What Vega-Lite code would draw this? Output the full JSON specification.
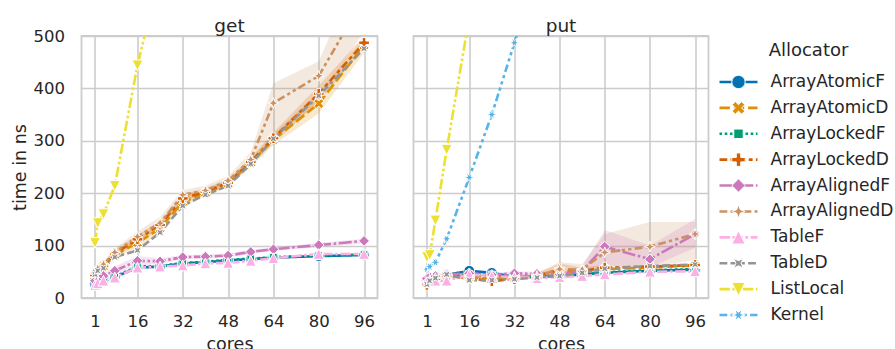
{
  "$schema": "https://vega.github.io/schema/vega-lite/v6.json",
  "padding": {"left": 9.5, "top": 15, "right": 0, "bottom": 0},
  "config": {
    "font": "DejaVu Sans",
    "view": {"stroke": "#cccccc", "strokeWidth": 1.8},
    "axis": {"grid": true, "gridColor": "#cccccc", "gridWidth": 1.6, "domain": false, "ticks": false, "labelFontSize": 16.5, "titleFontSize": 17.5, "labelColor": "#262626", "titleColor": "#262626", "titleFontWeight": "normal", "labelFlush": false, "labelOverlap": false},
    "title": {"fontSize": 18.5, "fontWeight": "normal", "color": "#262626", "baseline": "bottom", "offset": 1},
    "concat": {"spacing": 8}
  },
  "datasets": {
    "main": [
      {"panel":"get","Allocator":"ArrayAtomicF","cores":1,"ns":26},{"panel":"get","Allocator":"ArrayAtomicF","cores":2,"ns":28},{"panel":"get","Allocator":"ArrayAtomicF","cores":4,"ns":33},{"panel":"get","Allocator":"ArrayAtomicF","cores":8,"ns":40},{"panel":"get","Allocator":"ArrayAtomicF","cores":16,"ns":58},{"panel":"get","Allocator":"ArrayAtomicF","cores":24,"ns":60},{"panel":"get","Allocator":"ArrayAtomicF","cores":32,"ns":66},{"panel":"get","Allocator":"ArrayAtomicF","cores":40,"ns":68},{"panel":"get","Allocator":"ArrayAtomicF","cores":48,"ns":72},{"panel":"get","Allocator":"ArrayAtomicF","cores":56,"ns":74},{"panel":"get","Allocator":"ArrayAtomicF","cores":64,"ns":77},{"panel":"get","Allocator":"ArrayAtomicF","cores":80,"ns":80},{"panel":"get","Allocator":"ArrayAtomicF","cores":96,"ns":82},
      {"panel":"get","Allocator":"ArrayAtomicD","cores":1,"ns":42},{"panel":"get","Allocator":"ArrayAtomicD","cores":2,"ns":50},{"panel":"get","Allocator":"ArrayAtomicD","cores":4,"ns":60},{"panel":"get","Allocator":"ArrayAtomicD","cores":8,"ns":82},{"panel":"get","Allocator":"ArrayAtomicD","cores":16,"ns":105},{"panel":"get","Allocator":"ArrayAtomicD","cores":24,"ns":133},{"panel":"get","Allocator":"ArrayAtomicD","cores":32,"ns":183},{"panel":"get","Allocator":"ArrayAtomicD","cores":40,"ns":200},{"panel":"get","Allocator":"ArrayAtomicD","cores":48,"ns":218},{"panel":"get","Allocator":"ArrayAtomicD","cores":56,"ns":258},{"panel":"get","Allocator":"ArrayAtomicD","cores":64,"ns":302},{"panel":"get","Allocator":"ArrayAtomicD","cores":80,"ns":371},{"panel":"get","Allocator":"ArrayAtomicD","cores":96,"ns":482},
      {"panel":"get","Allocator":"ArrayLockedF","cores":1,"ns":27},{"panel":"get","Allocator":"ArrayLockedF","cores":2,"ns":29},{"panel":"get","Allocator":"ArrayLockedF","cores":4,"ns":34},{"panel":"get","Allocator":"ArrayLockedF","cores":8,"ns":41},{"panel":"get","Allocator":"ArrayLockedF","cores":16,"ns":60},{"panel":"get","Allocator":"ArrayLockedF","cores":24,"ns":61},{"panel":"get","Allocator":"ArrayLockedF","cores":32,"ns":67},{"panel":"get","Allocator":"ArrayLockedF","cores":40,"ns":69},{"panel":"get","Allocator":"ArrayLockedF","cores":48,"ns":73},{"panel":"get","Allocator":"ArrayLockedF","cores":56,"ns":75},{"panel":"get","Allocator":"ArrayLockedF","cores":64,"ns":78},{"panel":"get","Allocator":"ArrayLockedF","cores":80,"ns":81},{"panel":"get","Allocator":"ArrayLockedF","cores":96,"ns":83},
      {"panel":"get","Allocator":"ArrayLockedD","cores":1,"ns":44},{"panel":"get","Allocator":"ArrayLockedD","cores":2,"ns":52},{"panel":"get","Allocator":"ArrayLockedD","cores":4,"ns":62},{"panel":"get","Allocator":"ArrayLockedD","cores":8,"ns":85},{"panel":"get","Allocator":"ArrayLockedD","cores":16,"ns":112},{"panel":"get","Allocator":"ArrayLockedD","cores":24,"ns":140},{"panel":"get","Allocator":"ArrayLockedD","cores":32,"ns":190},{"panel":"get","Allocator":"ArrayLockedD","cores":40,"ns":203},{"panel":"get","Allocator":"ArrayLockedD","cores":48,"ns":220},{"panel":"get","Allocator":"ArrayLockedD","cores":56,"ns":260},{"panel":"get","Allocator":"ArrayLockedD","cores":64,"ns":305},{"panel":"get","Allocator":"ArrayLockedD","cores":80,"ns":390},{"panel":"get","Allocator":"ArrayLockedD","cores":96,"ns":487},
      {"panel":"get","Allocator":"ArrayAlignedF","cores":1,"ns":33},{"panel":"get","Allocator":"ArrayAlignedF","cores":2,"ns":38},{"panel":"get","Allocator":"ArrayAlignedF","cores":4,"ns":42},{"panel":"get","Allocator":"ArrayAlignedF","cores":8,"ns":52},{"panel":"get","Allocator":"ArrayAlignedF","cores":16,"ns":71},{"panel":"get","Allocator":"ArrayAlignedF","cores":24,"ns":70},{"panel":"get","Allocator":"ArrayAlignedF","cores":32,"ns":78},{"panel":"get","Allocator":"ArrayAlignedF","cores":40,"ns":79},{"panel":"get","Allocator":"ArrayAlignedF","cores":48,"ns":81},{"panel":"get","Allocator":"ArrayAlignedF","cores":56,"ns":88},{"panel":"get","Allocator":"ArrayAlignedF","cores":64,"ns":93},{"panel":"get","Allocator":"ArrayAlignedF","cores":80,"ns":101},{"panel":"get","Allocator":"ArrayAlignedF","cores":96,"ns":109},
      {"panel":"get","Allocator":"ArrayAlignedD","cores":1,"ns":46},{"panel":"get","Allocator":"ArrayAlignedD","cores":2,"ns":56},{"panel":"get","Allocator":"ArrayAlignedD","cores":4,"ns":64},{"panel":"get","Allocator":"ArrayAlignedD","cores":8,"ns":87},{"panel":"get","Allocator":"ArrayAlignedD","cores":16,"ns":117},{"panel":"get","Allocator":"ArrayAlignedD","cores":24,"ns":143},{"panel":"get","Allocator":"ArrayAlignedD","cores":32,"ns":197},{"panel":"get","Allocator":"ArrayAlignedD","cores":40,"ns":205},{"panel":"get","Allocator":"ArrayAlignedD","cores":48,"ns":224},{"panel":"get","Allocator":"ArrayAlignedD","cores":56,"ns":264},{"panel":"get","Allocator":"ArrayAlignedD","cores":64,"ns":372},{"panel":"get","Allocator":"ArrayAlignedD","cores":80,"ns":424},{"panel":"get","Allocator":"ArrayAlignedD","cores":96,"ns":572},
      {"panel":"get","Allocator":"TableF","cores":1,"ns":25},{"panel":"get","Allocator":"TableF","cores":2,"ns":28},{"panel":"get","Allocator":"TableF","cores":4,"ns":33},{"panel":"get","Allocator":"TableF","cores":8,"ns":39},{"panel":"get","Allocator":"TableF","cores":16,"ns":58},{"panel":"get","Allocator":"TableF","cores":24,"ns":60},{"panel":"get","Allocator":"TableF","cores":32,"ns":62},{"panel":"get","Allocator":"TableF","cores":40,"ns":66},{"panel":"get","Allocator":"TableF","cores":48,"ns":67},{"panel":"get","Allocator":"TableF","cores":56,"ns":71},{"panel":"get","Allocator":"TableF","cores":64,"ns":76},{"panel":"get","Allocator":"TableF","cores":80,"ns":84},{"panel":"get","Allocator":"TableF","cores":96,"ns":84},
      {"panel":"get","Allocator":"TableD","cores":1,"ns":45},{"panel":"get","Allocator":"TableD","cores":2,"ns":52},{"panel":"get","Allocator":"TableD","cores":4,"ns":57},{"panel":"get","Allocator":"TableD","cores":8,"ns":78},{"panel":"get","Allocator":"TableD","cores":16,"ns":91},{"panel":"get","Allocator":"TableD","cores":24,"ns":125},{"panel":"get","Allocator":"TableD","cores":32,"ns":176},{"panel":"get","Allocator":"TableD","cores":40,"ns":197},{"panel":"get","Allocator":"TableD","cores":48,"ns":214},{"panel":"get","Allocator":"TableD","cores":56,"ns":256},{"panel":"get","Allocator":"TableD","cores":64,"ns":304},{"panel":"get","Allocator":"TableD","cores":80,"ns":386},{"panel":"get","Allocator":"TableD","cores":96,"ns":476},
      {"panel":"get","Allocator":"ListLocal","cores":1,"ns":105},{"panel":"get","Allocator":"ListLocal","cores":2,"ns":143},{"panel":"get","Allocator":"ListLocal","cores":4,"ns":160},{"panel":"get","Allocator":"ListLocal","cores":8,"ns":214},{"panel":"get","Allocator":"ListLocal","cores":16,"ns":444},{"panel":"get","Allocator":"ListLocal","cores":24,"ns":620},
      {"panel":"put","Allocator":"ArrayAtomicF","cores":1,"ns":33},{"panel":"put","Allocator":"ArrayAtomicF","cores":2,"ns":36},{"panel":"put","Allocator":"ArrayAtomicF","cores":4,"ns":40},{"panel":"put","Allocator":"ArrayAtomicF","cores":8,"ns":44},{"panel":"put","Allocator":"ArrayAtomicF","cores":16,"ns":52},{"panel":"put","Allocator":"ArrayAtomicF","cores":24,"ns":48},{"panel":"put","Allocator":"ArrayAtomicF","cores":32,"ns":40},{"panel":"put","Allocator":"ArrayAtomicF","cores":40,"ns":40},{"panel":"put","Allocator":"ArrayAtomicF","cores":48,"ns":42},{"panel":"put","Allocator":"ArrayAtomicF","cores":56,"ns":45},{"panel":"put","Allocator":"ArrayAtomicF","cores":64,"ns":48},{"panel":"put","Allocator":"ArrayAtomicF","cores":80,"ns":52},{"panel":"put","Allocator":"ArrayAtomicF","cores":96,"ns":54},
      {"panel":"put","Allocator":"ArrayAtomicD","cores":1,"ns":28},{"panel":"put","Allocator":"ArrayAtomicD","cores":2,"ns":33},{"panel":"put","Allocator":"ArrayAtomicD","cores":4,"ns":38},{"panel":"put","Allocator":"ArrayAtomicD","cores":8,"ns":43},{"panel":"put","Allocator":"ArrayAtomicD","cores":16,"ns":40},{"panel":"put","Allocator":"ArrayAtomicD","cores":24,"ns":36},{"panel":"put","Allocator":"ArrayAtomicD","cores":32,"ns":38},{"panel":"put","Allocator":"ArrayAtomicD","cores":40,"ns":42},{"panel":"put","Allocator":"ArrayAtomicD","cores":48,"ns":50},{"panel":"put","Allocator":"ArrayAtomicD","cores":56,"ns":50},{"panel":"put","Allocator":"ArrayAtomicD","cores":64,"ns":55},{"panel":"put","Allocator":"ArrayAtomicD","cores":80,"ns":58},{"panel":"put","Allocator":"ArrayAtomicD","cores":96,"ns":62},
      {"panel":"put","Allocator":"ArrayLockedF","cores":1,"ns":30},{"panel":"put","Allocator":"ArrayLockedF","cores":2,"ns":34},{"panel":"put","Allocator":"ArrayLockedF","cores":4,"ns":38},{"panel":"put","Allocator":"ArrayLockedF","cores":8,"ns":42},{"panel":"put","Allocator":"ArrayLockedF","cores":16,"ns":45},{"panel":"put","Allocator":"ArrayLockedF","cores":24,"ns":44},{"panel":"put","Allocator":"ArrayLockedF","cores":32,"ns":40},{"panel":"put","Allocator":"ArrayLockedF","cores":40,"ns":40},{"panel":"put","Allocator":"ArrayLockedF","cores":48,"ns":43},{"panel":"put","Allocator":"ArrayLockedF","cores":56,"ns":46},{"panel":"put","Allocator":"ArrayLockedF","cores":64,"ns":49},{"panel":"put","Allocator":"ArrayLockedF","cores":80,"ns":53},{"panel":"put","Allocator":"ArrayLockedF","cores":96,"ns":55},
      {"panel":"put","Allocator":"ArrayLockedD","cores":1,"ns":25},{"panel":"put","Allocator":"ArrayLockedD","cores":2,"ns":32},{"panel":"put","Allocator":"ArrayLockedD","cores":4,"ns":37},{"panel":"put","Allocator":"ArrayLockedD","cores":8,"ns":42},{"panel":"put","Allocator":"ArrayLockedD","cores":16,"ns":38},{"panel":"put","Allocator":"ArrayLockedD","cores":24,"ns":32},{"panel":"put","Allocator":"ArrayLockedD","cores":32,"ns":36},{"panel":"put","Allocator":"ArrayLockedD","cores":40,"ns":42},{"panel":"put","Allocator":"ArrayLockedD","cores":48,"ns":55},{"panel":"put","Allocator":"ArrayLockedD","cores":56,"ns":52},{"panel":"put","Allocator":"ArrayLockedD","cores":64,"ns":58},{"panel":"put","Allocator":"ArrayLockedD","cores":80,"ns":60},{"panel":"put","Allocator":"ArrayLockedD","cores":96,"ns":63},
      {"panel":"put","Allocator":"ArrayAlignedF","cores":1,"ns":37},{"panel":"put","Allocator":"ArrayAlignedF","cores":2,"ns":40},{"panel":"put","Allocator":"ArrayAlignedF","cores":4,"ns":42},{"panel":"put","Allocator":"ArrayAlignedF","cores":8,"ns":45},{"panel":"put","Allocator":"ArrayAlignedF","cores":16,"ns":47},{"panel":"put","Allocator":"ArrayAlignedF","cores":24,"ns":44},{"panel":"put","Allocator":"ArrayAlignedF","cores":32,"ns":47},{"panel":"put","Allocator":"ArrayAlignedF","cores":40,"ns":46},{"panel":"put","Allocator":"ArrayAlignedF","cores":48,"ns":45},{"panel":"put","Allocator":"ArrayAlignedF","cores":56,"ns":52},{"panel":"put","Allocator":"ArrayAlignedF","cores":64,"ns":98},{"panel":"put","Allocator":"ArrayAlignedF","cores":80,"ns":74},{"panel":"put","Allocator":"ArrayAlignedF","cores":96,"ns":122},
      {"panel":"put","Allocator":"ArrayAlignedD","cores":1,"ns":30},{"panel":"put","Allocator":"ArrayAlignedD","cores":2,"ns":35},{"panel":"put","Allocator":"ArrayAlignedD","cores":4,"ns":38},{"panel":"put","Allocator":"ArrayAlignedD","cores":8,"ns":43},{"panel":"put","Allocator":"ArrayAlignedD","cores":16,"ns":42},{"panel":"put","Allocator":"ArrayAlignedD","cores":24,"ns":40},{"panel":"put","Allocator":"ArrayAlignedD","cores":32,"ns":40},{"panel":"put","Allocator":"ArrayAlignedD","cores":40,"ns":42},{"panel":"put","Allocator":"ArrayAlignedD","cores":48,"ns":55},{"panel":"put","Allocator":"ArrayAlignedD","cores":56,"ns":54},{"panel":"put","Allocator":"ArrayAlignedD","cores":64,"ns":87},{"panel":"put","Allocator":"ArrayAlignedD","cores":80,"ns":98},{"panel":"put","Allocator":"ArrayAlignedD","cores":96,"ns":122},
      {"panel":"put","Allocator":"TableF","cores":1,"ns":30},{"panel":"put","Allocator":"TableF","cores":2,"ns":32},{"panel":"put","Allocator":"TableF","cores":4,"ns":33},{"panel":"put","Allocator":"TableF","cores":8,"ns":33},{"panel":"put","Allocator":"TableF","cores":16,"ns":45},{"panel":"put","Allocator":"TableF","cores":24,"ns":42},{"panel":"put","Allocator":"TableF","cores":32,"ns":40},{"panel":"put","Allocator":"TableF","cores":40,"ns":38},{"panel":"put","Allocator":"TableF","cores":48,"ns":40},{"panel":"put","Allocator":"TableF","cores":56,"ns":42},{"panel":"put","Allocator":"TableF","cores":64,"ns":45},{"panel":"put","Allocator":"TableF","cores":80,"ns":50},{"panel":"put","Allocator":"TableF","cores":96,"ns":51},
      {"panel":"put","Allocator":"TableD","cores":1,"ns":26},{"panel":"put","Allocator":"TableD","cores":2,"ns":33},{"panel":"put","Allocator":"TableD","cores":4,"ns":38},{"panel":"put","Allocator":"TableD","cores":8,"ns":45},{"panel":"put","Allocator":"TableD","cores":16,"ns":34},{"panel":"put","Allocator":"TableD","cores":24,"ns":34},{"panel":"put","Allocator":"TableD","cores":32,"ns":36},{"panel":"put","Allocator":"TableD","cores":40,"ns":39},{"panel":"put","Allocator":"TableD","cores":48,"ns":42},{"panel":"put","Allocator":"TableD","cores":56,"ns":48},{"panel":"put","Allocator":"TableD","cores":64,"ns":56},{"panel":"put","Allocator":"TableD","cores":80,"ns":61},{"panel":"put","Allocator":"TableD","cores":96,"ns":64},
      {"panel":"put","Allocator":"ListLocal","cores":1,"ns":78},{"panel":"put","Allocator":"ListLocal","cores":2,"ns":82},{"panel":"put","Allocator":"ListLocal","cores":4,"ns":148},{"panel":"put","Allocator":"ListLocal","cores":8,"ns":283},{"panel":"put","Allocator":"ListLocal","cores":16,"ns":535},
      {"panel":"put","Allocator":"Kernel","cores":1,"ns":55},{"panel":"put","Allocator":"Kernel","cores":2,"ns":60},{"panel":"put","Allocator":"Kernel","cores":4,"ns":68},{"panel":"put","Allocator":"Kernel","cores":8,"ns":113},{"panel":"put","Allocator":"Kernel","cores":16,"ns":230},{"panel":"put","Allocator":"Kernel","cores":24,"ns":350},{"panel":"put","Allocator":"Kernel","cores":32,"ns":487},{"panel":"put","Allocator":"Kernel","cores":40,"ns":620}
    ],
    "bands": [
      {"panel":"get","Allocator":"ArrayAlignedD","cores":1,"lo":40,"hi":52},{"panel":"get","Allocator":"ArrayAlignedD","cores":2,"lo":50,"hi":62},{"panel":"get","Allocator":"ArrayAlignedD","cores":4,"lo":58,"hi":70},{"panel":"get","Allocator":"ArrayAlignedD","cores":8,"lo":80,"hi":95},{"panel":"get","Allocator":"ArrayAlignedD","cores":16,"lo":108,"hi":127},{"panel":"get","Allocator":"ArrayAlignedD","cores":24,"lo":133,"hi":155},{"panel":"get","Allocator":"ArrayAlignedD","cores":32,"lo":186,"hi":206},{"panel":"get","Allocator":"ArrayAlignedD","cores":40,"lo":198,"hi":214},{"panel":"get","Allocator":"ArrayAlignedD","cores":48,"lo":215,"hi":233},{"panel":"get","Allocator":"ArrayAlignedD","cores":56,"lo":255,"hi":278},{"panel":"get","Allocator":"ArrayAlignedD","cores":64,"lo":305,"hi":410},{"panel":"get","Allocator":"ArrayAlignedD","cores":80,"lo":372,"hi":452},{"panel":"get","Allocator":"ArrayAlignedD","cores":96,"lo":510,"hi":650},
      {"panel":"get","Allocator":"ArrayAtomicD","cores":1,"lo":38,"hi":46},{"panel":"get","Allocator":"ArrayAtomicD","cores":2,"lo":45,"hi":55},{"panel":"get","Allocator":"ArrayAtomicD","cores":4,"lo":55,"hi":66},{"panel":"get","Allocator":"ArrayAtomicD","cores":8,"lo":76,"hi":88},{"panel":"get","Allocator":"ArrayAtomicD","cores":16,"lo":96,"hi":114},{"panel":"get","Allocator":"ArrayAtomicD","cores":24,"lo":125,"hi":142},{"panel":"get","Allocator":"ArrayAtomicD","cores":32,"lo":175,"hi":192},{"panel":"get","Allocator":"ArrayAtomicD","cores":40,"lo":194,"hi":206},{"panel":"get","Allocator":"ArrayAtomicD","cores":48,"lo":212,"hi":225},{"panel":"get","Allocator":"ArrayAtomicD","cores":56,"lo":250,"hi":266},{"panel":"get","Allocator":"ArrayAtomicD","cores":64,"lo":292,"hi":313},{"panel":"get","Allocator":"ArrayAtomicD","cores":80,"lo":352,"hi":392},{"panel":"get","Allocator":"ArrayAtomicD","cores":96,"lo":468,"hi":497},
      {"panel":"get","Allocator":"ArrayLockedD","cores":1,"lo":40,"hi":48},{"panel":"get","Allocator":"ArrayLockedD","cores":2,"lo":47,"hi":57},{"panel":"get","Allocator":"ArrayLockedD","cores":4,"lo":57,"hi":68},{"panel":"get","Allocator":"ArrayLockedD","cores":8,"lo":79,"hi":92},{"panel":"get","Allocator":"ArrayLockedD","cores":16,"lo":104,"hi":120},{"panel":"get","Allocator":"ArrayLockedD","cores":24,"lo":132,"hi":148},{"panel":"get","Allocator":"ArrayLockedD","cores":32,"lo":182,"hi":198},{"panel":"get","Allocator":"ArrayLockedD","cores":40,"lo":197,"hi":210},{"panel":"get","Allocator":"ArrayLockedD","cores":48,"lo":214,"hi":227},{"panel":"get","Allocator":"ArrayLockedD","cores":56,"lo":252,"hi":268},{"panel":"get","Allocator":"ArrayLockedD","cores":64,"lo":295,"hi":316},{"panel":"get","Allocator":"ArrayLockedD","cores":80,"lo":375,"hi":405},{"panel":"get","Allocator":"ArrayLockedD","cores":96,"lo":476,"hi":500},
      {"panel":"get","Allocator":"ArrayAlignedF","cores":1,"lo":28,"hi":38},{"panel":"get","Allocator":"ArrayAlignedF","cores":2,"lo":33,"hi":43},{"panel":"get","Allocator":"ArrayAlignedF","cores":4,"lo":37,"hi":48},{"panel":"get","Allocator":"ArrayAlignedF","cores":8,"lo":46,"hi":60},{"panel":"get","Allocator":"ArrayAlignedF","cores":16,"lo":62,"hi":80},{"panel":"get","Allocator":"ArrayAlignedF","cores":24,"lo":65,"hi":76},{"panel":"get","Allocator":"ArrayAlignedF","cores":32,"lo":74,"hi":82},{"panel":"get","Allocator":"ArrayAlignedF","cores":40,"lo":76,"hi":83},{"panel":"get","Allocator":"ArrayAlignedF","cores":48,"lo":78,"hi":85},{"panel":"get","Allocator":"ArrayAlignedF","cores":56,"lo":84,"hi":92},{"panel":"get","Allocator":"ArrayAlignedF","cores":64,"lo":90,"hi":97},{"panel":"get","Allocator":"ArrayAlignedF","cores":80,"lo":97,"hi":105},{"panel":"get","Allocator":"ArrayAlignedF","cores":96,"lo":104,"hi":113},
      {"panel":"put","Allocator":"ArrayAlignedD","cores":1,"lo":25,"hi":35},{"panel":"put","Allocator":"ArrayAlignedD","cores":2,"lo":30,"hi":40},{"panel":"put","Allocator":"ArrayAlignedD","cores":4,"lo":34,"hi":43},{"panel":"put","Allocator":"ArrayAlignedD","cores":8,"lo":39,"hi":47},{"panel":"put","Allocator":"ArrayAlignedD","cores":16,"lo":38,"hi":47},{"panel":"put","Allocator":"ArrayAlignedD","cores":24,"lo":36,"hi":44},{"panel":"put","Allocator":"ArrayAlignedD","cores":32,"lo":36,"hi":44},{"panel":"put","Allocator":"ArrayAlignedD","cores":40,"lo":37,"hi":48},{"panel":"put","Allocator":"ArrayAlignedD","cores":48,"lo":44,"hi":68},{"panel":"put","Allocator":"ArrayAlignedD","cores":56,"lo":45,"hi":65},{"panel":"put","Allocator":"ArrayAlignedD","cores":64,"lo":55,"hi":122},{"panel":"put","Allocator":"ArrayAlignedD","cores":80,"lo":60,"hi":145},{"panel":"put","Allocator":"ArrayAlignedD","cores":96,"lo":72,"hi":145},
      {"panel":"put","Allocator":"ArrayAlignedF","cores":1,"lo":32,"hi":42},{"panel":"put","Allocator":"ArrayAlignedF","cores":2,"lo":36,"hi":44},{"panel":"put","Allocator":"ArrayAlignedF","cores":4,"lo":38,"hi":46},{"panel":"put","Allocator":"ArrayAlignedF","cores":8,"lo":41,"hi":49},{"panel":"put","Allocator":"ArrayAlignedF","cores":16,"lo":43,"hi":51},{"panel":"put","Allocator":"ArrayAlignedF","cores":24,"lo":40,"hi":48},{"panel":"put","Allocator":"ArrayAlignedF","cores":32,"lo":43,"hi":51},{"panel":"put","Allocator":"ArrayAlignedF","cores":40,"lo":42,"hi":50},{"panel":"put","Allocator":"ArrayAlignedF","cores":48,"lo":41,"hi":50},{"panel":"put","Allocator":"ArrayAlignedF","cores":56,"lo":45,"hi":60},{"panel":"put","Allocator":"ArrayAlignedF","cores":64,"lo":62,"hi":130},{"panel":"put","Allocator":"ArrayAlignedF","cores":80,"lo":58,"hi":100},{"panel":"put","Allocator":"ArrayAlignedF","cores":96,"lo":96,"hi":151},
      {"panel":"put","Allocator":"ArrayLockedD","cores":40,"lo":38,"hi":47},{"panel":"put","Allocator":"ArrayLockedD","cores":48,"lo":44,"hi":66},{"panel":"put","Allocator":"ArrayLockedD","cores":56,"lo":46,"hi":58},{"panel":"put","Allocator":"ArrayLockedD","cores":64,"lo":52,"hi":64}
    ],
    "legend": [
      {"Allocator":"ArrayAtomicF"},{"Allocator":"ArrayAtomicD"},{"Allocator":"ArrayLockedF"},{"Allocator":"ArrayLockedD"},{"Allocator":"ArrayAlignedF"},{"Allocator":"ArrayAlignedD"},{"Allocator":"TableF"},{"Allocator":"TableD"},{"Allocator":"ListLocal"},{"Allocator":"Kernel"}
    ]
  },
  "hconcat": [
    {
      "title": {"text": "get", "dy": 8.25},
      "width": 296, "height": 262,
      "encoding": {
        "x": {"field": "cores", "type": "quantitative", "scale": {"domain": [-3.75, 100.75], "nice": false, "zero": false}, "axis": {"title": "cores", "values": [1,16,32,48,64,80,96], "labelPadding": 15.5, "titlePadding": 5}},
        "color": {"field": "Allocator", "type": "nominal", "scale": {"domain": ["ArrayAtomicF","ArrayAtomicD","ArrayLockedF","ArrayLockedD","ArrayAlignedF","ArrayAlignedD","TableF","TableD","ListLocal","Kernel"], "range": ["#0173b2","#de8f05","#029e73","#d55e00","#cc78bc","#ca9161","#fbafe4","#949494","#ece133","#56b4e9"]}, "legend": null}
      },
      "layer": [
        {
          "data": {"name": "bands"},
          "transform": [{"filter": "datum.panel === 'get'"}],
          "mark": {"type": "area", "opacity": 0.2, "clip": true},
          "encoding": {
            "y": {"field": "lo", "type": "quantitative", "stack": null, "scale": {"domain": [0, 500], "nice": false}, "axis": {"title": "time in ns", "values": [0,100,200,300,400,500], "labelPadding": 17, "titlePadding": 4}},
            "y2": {"field": "hi"}
          }
        },
        {
          "data": {"name": "main"},
          "transform": [{"filter": "datum.panel === 'get'"}],
          "mark": {"type": "line", "strokeWidth": 2.6, "clip": true},
          "encoding": {
            "y": {"field": "ns", "type": "quantitative", "scale": {"domain": [0, 500], "nice": false}, "axis": {"title": "time in ns", "values": [0,100,200,300,400,500], "labelPadding": 17, "titlePadding": 4}},
            "strokeDash": {"field": "Allocator", "type": "nominal", "scale": {"domain": ["ArrayAtomicF","ArrayAtomicD","ArrayLockedF","ArrayLockedD","ArrayAlignedF","ArrayAlignedD","TableF","TableD","ListLocal","Kernel"], "range": [[1,0],[10.4,3.9],[2.6,2.6],[7.8,3.25,3.9,3.25],[13,2.6,2.6,2.6],[7.8,3.25,3.25,3.25,3.25,3.25],[10.4,2.6,10.4,2.6,2.6,2.6],[7.8,3.25,7.8,3.25,3.25,3.25],[10.4,2.6,2.6,2.6,2.6,2.6],[7.8,3.25,3.25,3.25,3.25,3.25,3.25,3.25]]}, "legend": null}
          }
        },
        {
          "data": {"name": "main"},
          "transform": [{"filter": "datum.panel === 'get'"}],
          "mark": {"type": "point", "filled": true, "opacity": 1, "stroke": "white", "strokeWidth": 1, "size": 115, "clip": true},
          "encoding": {
            "y": {"field": "ns", "type": "quantitative"},
            "shape": {"field": "Allocator", "type": "nominal", "scale": {"domain": ["ArrayAtomicF","ArrayAtomicD","ArrayLockedF","ArrayLockedD","ArrayAlignedF","ArrayAlignedD","TableF","TableD","ListLocal","Kernel"], "range": ["circle","M0.471,-0.943L0.943,-0.471L0.471,0L0.943,0.471L0.471,0.943L0,0.471L-0.471,0.943L-0.943,0.471L-0.471,0L-0.943,-0.471L-0.471,-0.943L0,-0.471Z","M-0.707,-0.707L0.707,-0.707L0.707,0.707L-0.707,0.707Z","M-0.333,-1L0.333,-1L0.333,-0.333L1,-0.333L1,0.333L0.333,0.333L0.333,1L-0.333,1L-0.333,0.333L-1,0.333L-1,-0.333L-0.333,-0.333Z","M0,-1L1,0L0,1L-1,0Z","M0,-1L0.27,-0.27L1,0L0.27,0.27L0,1L-0.27,0.27L-1,0L-0.27,-0.27Z","M0,-1L1,1L-1,1Z","M-0.707,-0.707L0,-0.382L0.707,-0.707L0.382,0L0.707,0.707L0,0.382L-0.707,0.707L-0.382,0Z","M0,1L1,-1L-1,-1Z","M1,0L0.331,0.191L0.5,0.866L0,0.382L-0.5,0.866L-0.331,0.191L-1,0L-0.331,-0.191L-0.5,-0.866L0,-0.382L0.5,-0.866L0.331,-0.191Z"]}, "legend": null}
          }
        }
      ]
    },
    {
      "title": {"text": "put"},
      "width": 295, "height": 262,
      "encoding": {
        "x": {"field": "cores", "type": "quantitative", "scale": {"domain": [-3.75, 100.75], "nice": false, "zero": false}, "axis": {"title": "cores", "values": [1,16,32,48,64,80,96], "labelPadding": 15.5, "titlePadding": 5}},
        "color": {"field": "Allocator", "type": "nominal", "scale": {"domain": ["ArrayAtomicF","ArrayAtomicD","ArrayLockedF","ArrayLockedD","ArrayAlignedF","ArrayAlignedD","TableF","TableD","ListLocal","Kernel"], "range": ["#0173b2","#de8f05","#029e73","#d55e00","#cc78bc","#ca9161","#fbafe4","#949494","#ece133","#56b4e9"]}, "legend": null}
      },
      "layer": [
        {
          "data": {"name": "bands"},
          "transform": [{"filter": "datum.panel === 'put'"}],
          "mark": {"type": "area", "opacity": 0.2, "clip": true},
          "encoding": {
            "y": {"field": "lo", "type": "quantitative", "stack": null, "scale": {"domain": [0, 500], "nice": false}, "axis": {"title": null, "labels": false, "minExtent": 26, "values": [0,100,200,300,400,500]}},
            "y2": {"field": "hi"}
          }
        },
        {
          "data": {"name": "main"},
          "transform": [{"filter": "datum.panel === 'put'"}],
          "mark": {"type": "line", "strokeWidth": 2.6, "clip": true},
          "encoding": {
            "y": {"field": "ns", "type": "quantitative", "scale": {"domain": [0, 500], "nice": false}, "axis": {"title": null, "labels": false, "minExtent": 26, "values": [0,100,200,300,400,500]}},
            "strokeDash": {"field": "Allocator", "type": "nominal", "scale": {"domain": ["ArrayAtomicF","ArrayAtomicD","ArrayLockedF","ArrayLockedD","ArrayAlignedF","ArrayAlignedD","TableF","TableD","ListLocal","Kernel"], "range": [[1,0],[10.4,3.9],[2.6,2.6],[7.8,3.25,3.9,3.25],[13,2.6,2.6,2.6],[7.8,3.25,3.25,3.25,3.25,3.25],[10.4,2.6,10.4,2.6,2.6,2.6],[7.8,3.25,7.8,3.25,3.25,3.25],[10.4,2.6,2.6,2.6,2.6,2.6],[7.8,3.25,3.25,3.25,3.25,3.25,3.25,3.25]]}, "legend": null}
          }
        },
        {
          "data": {"name": "main"},
          "transform": [{"filter": "datum.panel === 'put'"}],
          "mark": {"type": "point", "filled": true, "opacity": 1, "stroke": "white", "strokeWidth": 1, "size": 115, "clip": true},
          "encoding": {
            "y": {"field": "ns", "type": "quantitative"},
            "shape": {"field": "Allocator", "type": "nominal", "scale": {"domain": ["ArrayAtomicF","ArrayAtomicD","ArrayLockedF","ArrayLockedD","ArrayAlignedF","ArrayAlignedD","TableF","TableD","ListLocal","Kernel"], "range": ["circle","M0.471,-0.943L0.943,-0.471L0.471,0L0.943,0.471L0.471,0.943L0,0.471L-0.471,0.943L-0.943,0.471L-0.471,0L-0.943,-0.471L-0.471,-0.943L0,-0.471Z","M-0.707,-0.707L0.707,-0.707L0.707,0.707L-0.707,0.707Z","M-0.333,-1L0.333,-1L0.333,-0.333L1,-0.333L1,0.333L0.333,0.333L0.333,1L-0.333,1L-0.333,0.333L-1,0.333L-1,-0.333L-0.333,-0.333Z","M0,-1L1,0L0,1L-1,0Z","M0,-1L0.27,-0.27L1,0L0.27,0.27L0,1L-0.27,0.27L-1,0L-0.27,-0.27Z","M0,-1L1,1L-1,1Z","M-0.707,-0.707L0,-0.382L0.707,-0.707L0.382,0L0.707,0.707L0,0.382L-0.707,0.707L-0.382,0Z","M0,1L1,-1L-1,-1Z","M1,0L0.331,0.191L0.5,0.866L0,0.382L-0.5,0.866L-0.331,0.191L-1,0L-0.331,-0.191L-0.5,-0.866L0,-0.382L0.5,-0.866L0.331,-0.191Z"]}, "legend": null}
          }
        }
      ]
    },
    {
      "width": 178, "height": 262,
      "view": {"stroke": null},
      "data": {"name": "legend"},
      "encoding": {
        "y": {"field": "Allocator", "type": "nominal", "sort": null, "scale": {"type": "point", "domain": ["ArrayAtomicF","ArrayAtomicD","ArrayLockedF","ArrayLockedD","ArrayAlignedF","ArrayAlignedD","TableF","TableD","ListLocal","Kernel"], "range": [46, 279], "padding": 0}, "axis": null},
        "color": {"field": "Allocator", "type": "nominal", "scale": {"domain": ["ArrayAtomicF","ArrayAtomicD","ArrayLockedF","ArrayLockedD","ArrayAlignedF","ArrayAlignedD","TableF","TableD","ListLocal","Kernel"], "range": ["#0173b2","#de8f05","#029e73","#d55e00","#cc78bc","#ca9161","#fbafe4","#949494","#ece133","#56b4e9"]}, "legend": null}
      },
      "layer": [
        {
          "mark": {"type": "rule", "strokeWidth": 2.6},
          "encoding": {
            "x": {"datum": 0, "type": "quantitative", "scale": {"domain": [0, 178], "nice": false, "zero": false}, "axis": null},
            "x2": {"datum": 38},
            "strokeDash": {"field": "Allocator", "type": "nominal", "scale": {"domain": ["ArrayAtomicF","ArrayAtomicD","ArrayLockedF","ArrayLockedD","ArrayAlignedF","ArrayAlignedD","TableF","TableD","ListLocal","Kernel"], "range": [[1,0],[10.4,3.9],[2.6,2.6],[7.8,3.25,3.9,3.25],[13,2.6,2.6,2.6],[7.8,3.25,3.25,3.25,3.25,3.25],[10.4,2.6,10.4,2.6,2.6,2.6],[7.8,3.25,7.8,3.25,3.25,3.25],[10.4,2.6,2.6,2.6,2.6,2.6],[7.8,3.25,3.25,3.25,3.25,3.25,3.25,3.25]]}, "legend": null}
          }
        },
        {
          "mark": {"type": "point", "filled": true, "opacity": 1, "stroke": "white", "strokeWidth": 1, "size": 180},
          "encoding": {
            "x": {"datum": 19, "type": "quantitative"},
            "shape": {"field": "Allocator", "type": "nominal", "scale": {"domain": ["ArrayAtomicF","ArrayAtomicD","ArrayLockedF","ArrayLockedD","ArrayAlignedF","ArrayAlignedD","TableF","TableD","ListLocal","Kernel"], "range": ["circle","M0.471,-0.943L0.943,-0.471L0.471,0L0.943,0.471L0.471,0.943L0,0.471L-0.471,0.943L-0.943,0.471L-0.471,0L-0.943,-0.471L-0.471,-0.943L0,-0.471Z","M-0.707,-0.707L0.707,-0.707L0.707,0.707L-0.707,0.707Z","M-0.333,-1L0.333,-1L0.333,-0.333L1,-0.333L1,0.333L0.333,0.333L0.333,1L-0.333,1L-0.333,0.333L-1,0.333L-1,-0.333L-0.333,-0.333Z","M0,-1L1,0L0,1L-1,0Z","M0,-1L0.27,-0.27L1,0L0.27,0.27L0,1L-0.27,0.27L-1,0L-0.27,-0.27Z","M0,-1L1,1L-1,1Z","M-0.707,-0.707L0,-0.382L0.707,-0.707L0.382,0L0.707,0.707L0,0.382L-0.707,0.707L-0.382,0Z","M0,1L1,-1L-1,-1Z","M1,0L0.331,0.191L0.5,0.866L0,0.382L-0.5,0.866L-0.331,0.191L-1,0L-0.331,-0.191L-0.5,-0.866L0,-0.382L0.5,-0.866L0.331,-0.191Z"]}, "legend": null}
          }
        },
        {
          "mark": {"type": "text", "align": "left", "baseline": "middle", "fontSize": 17, "color": "#262626"},
          "encoding": {
            "x": {"datum": 51, "type": "quantitative"},
            "text": {"field": "Allocator"},
            "color": {"value": "#262626"}
          }
        },
        {
          "data": {"values": [{"header": "Allocator"}]},
          "mark": {"type": "text", "align": "center", "baseline": "middle", "dy": -31, "fontSize": 18, "color": "#262626"},
          "encoding": {
            "x": {"datum": 89, "type": "quantitative"},
            "y": {"datum": "ArrayAtomicF", "type": "nominal"},
            "text": {"field": "header"},
            "color": {"value": "#262626"}
          }
        }
      ]
    }
  ]
}
